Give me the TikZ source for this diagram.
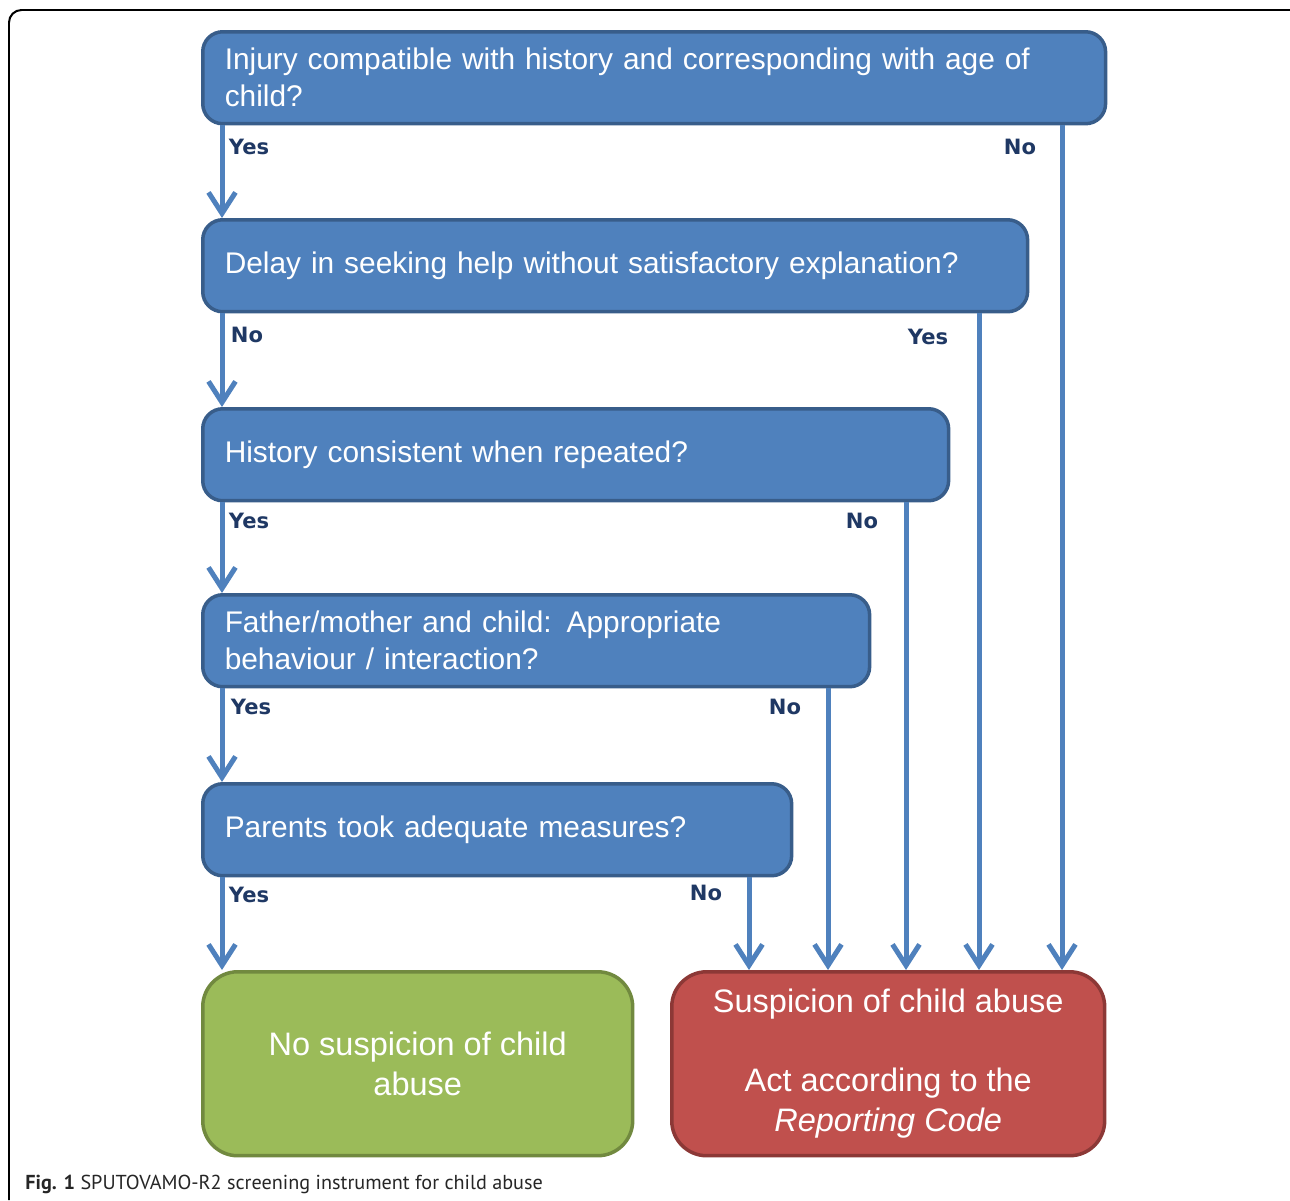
\documentclass[tikz,border=0pt]{standalone}
\usepackage{fontspec}
\setmainfont{Liberation Sans}
\newfontfamily\labfont{DejaVu Sans}
\newfontfamily\capfont{PT Sans}
\usetikzlibrary{arrows.meta}
\definecolor{qblue}{HTML}{4F81BD}
\definecolor{qbluedark}{HTML}{385D8A}
\definecolor{okgreen}{HTML}{9BBB59}
\definecolor{okgreendark}{HTML}{71893F}
\definecolor{badred}{HTML}{C0504D}
\definecolor{badreddark}{HTML}{8C3836}
\definecolor{labnavy}{HTML}{1F3864}
\begin{document}
\begin{tikzpicture}[x=0.02cm,y=-0.02cm,
  question/.style={rectangle,rounded corners=0.4cm,draw=qbluedark,fill=qblue,line width=0.07cm,
    anchor=north west,text=white,font=\fontsize{17}{21}\selectfont,align=left,
    inner xsep=0.44cm,minimum height=1.84cm},
  answer/.style={rectangle,rounded corners=0.7cm,line width=0.07cm,anchor=north west,
    text=white,font=\fontsize{18.5}{22.5}\selectfont,align=center,minimum height=3.68cm},
  lab/.style={font=\labfont\bfseries\fontsize{12}{14}\selectfont,text=labnavy,inner sep=0pt},
  flow/.style={draw=qblue,line width=0.1cm,-{Straight Barb[length=0.42cm,width=0.54cm]}}]

  \useasboundingbox (0,0) rectangle (1290,1200);
  \draw[line width=0.04cm,rounded corners=0.25cm] (9,1200) -- (9,10) -- (1290,10);

  % questions
  \node[question,text width=17.18cm] (q1) at (201,30)
    {Injury compatible with history and corresponding with age of\\child?};
  \node[question,text width=15.62cm] (q2) at (201,218)
    {Delay in seeking help without satisfactory explanation?};
  \node[question,text width=14.04cm] (q3) at (201,407)
    {History consistent when repeated?};
  \node[question,text width=12.46cm] (q4) at (201,593)
    {Father/mother and child: Appropriate\\behaviour / interaction?};
  \node[question,text width=10.9cm] (q5) at (201,782)
    {Parents took adequate measures?};

  % outcomes
  \node[answer,draw=okgreendark,fill=okgreen,minimum width=8.6cm] (noabuse) at (201,970)
    {No suspicion of child\\abuse};
  \node[answer,draw=badreddark,fill=badred,minimum width=8.66cm] (abuse) at (670,970)
    {Suspicion of child abuse\\[22.5pt]Act according to the\\\textit{Reporting Code}};

  % columns
  \coordinate (cL) at (222,0);
  \coordinate (cA) at (1062,0);
  \coordinate (cB) at (979,0);
  \coordinate (cC) at (906,0);
  \coordinate (cD) at (828,0);
  \coordinate (cE) at (749,0);

  \draw[flow] (cL |- q1.south) -- (cL |- q2.north);
  \draw[flow] (cL |- q2.south) -- (cL |- q3.north);
  \draw[flow] (cL |- q3.south) -- (cL |- q4.north);
  \draw[flow] (cL |- q4.south) -- (cL |- q5.north);
  \draw[flow] (cL |- q5.south) -- (cL |- noabuse.north);
  \draw[flow] (cA |- q1.south) -- (cA |- abuse.north);
  \draw[flow] (cB |- q2.south) -- (cB |- abuse.north);
  \draw[flow] (cC |- q3.south) -- (cC |- abuse.north);
  \draw[flow] (cD |- q4.south) -- (cD |- abuse.north);
  \draw[flow] (cE |- q5.south) -- (cE |- abuse.north);

  % answers
  \node[lab] (y1) at (249,147) {Yes};
  \node[lab] (n1) at (1020,147) {No};
  \node[lab] (n2) at (247,335) {No};
  \node[lab] (y2) at (928,337) {Yes};
  \node[lab] (y3) at (249,521) {Yes};
  \node[lab] (n3) at (862,521) {No};
  \node[lab] (y4) at (251,707) {Yes};
  \node[lab] (n4) at (785,707) {No};
  \node[lab] (y5) at (249,895) {Yes};
  \node[lab] (n5) at (706,893) {No};

  \node[anchor=west,inner sep=0pt,font=\capfont\fontsize{11.5}{14}\selectfont,text=black!85] (caption) at (25,1184)
    {\textbf{Fig. 1} SPUTOVAMO-R2 screening instrument for child abuse};
\end{tikzpicture}
\end{document}
